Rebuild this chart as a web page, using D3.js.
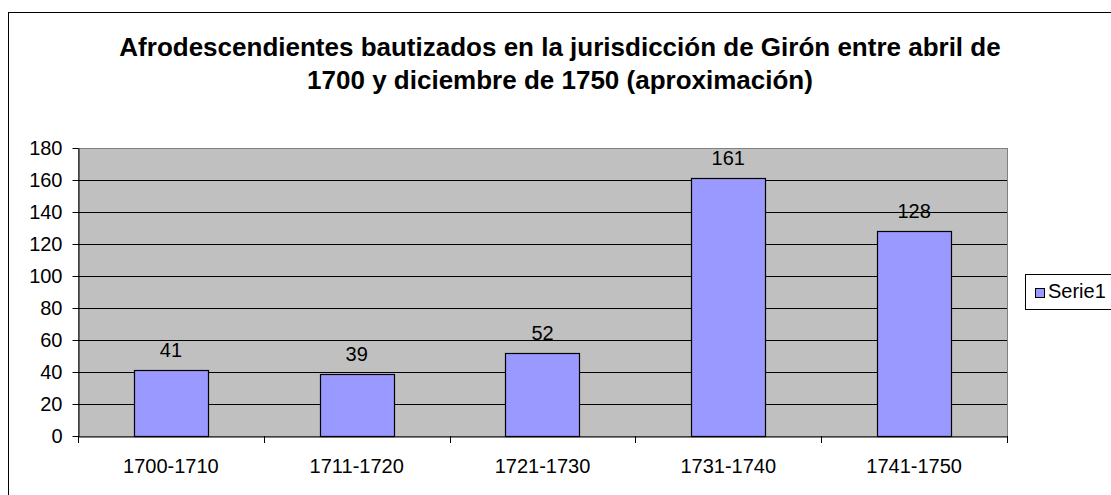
<!DOCTYPE html>
<html><head><meta charset="utf-8">
<script src="https://cdn.jsdelivr.net/npm/d3@7"></script>
<style>body{margin:0;background:#fff}svg{display:block}text{font-family:"Liberation Sans",Arial,sans-serif}</style>
</head><body>
<svg id="c" width="1111" height="495"></svg>
<script>
const categories = ["1700-1710","1711-1720","1721-1730","1731-1740","1741-1750"];
const values = [41,39,52,161,128];
const yTicks = [0,20,40,60,80,100,120,140,160,180];
const seriesName = "Serie1";
const titleLines = ["Afrodescendientes bautizados en la jurisdicción de Girón entre abril de","1700 y diciembre de 1750 (aproximación)"];

const FONT = "'Liberation Sans', Arial, sans-serif";
const svg = d3.select("#c");
// outer chart border
svg.append("rect").attr("x",8.5).attr("y",12.5).attr("width",1200).attr("height",600)
  .attr("fill","#fff").attr("stroke","#000").attr("stroke-width",1);

const L=78, R=1007, T=148, B=436;
const x = d3.scaleBand().domain(categories).range([L,R]).paddingInner(0.6).paddingOuter(0.3);
const xc = d3.scaleBand().domain(categories).range([L,R]);
const y = d3.scaleLinear().domain([0,180]).range([B,T]);

svg.append("rect").attr("x",L+0.5).attr("y",T+0.5).attr("width",R-L).attr("height",B-T)
  .attr("fill","#C0C0C0").attr("stroke","#808080").attr("stroke-width",1);

// gridlines
svg.append("g").selectAll("line").data(yTicks.filter(d=>d>0 && d<180)).join("line")
  .attr("x1",L).attr("x2",R).attr("y1",d=>Math.round(y(d))+0.5).attr("y2",d=>Math.round(y(d))+0.5)
  .attr("stroke","#000").attr("stroke-width",1);

// y axis
const ya = svg.append("g").attr("transform",`translate(${L+0.5},0)`)
  .call(d3.axisLeft(y).tickValues(yTicks).tickSize(6).tickPadding(10).tickSizeOuter(0));
ya.select(".domain").attr("stroke","#000");
ya.selectAll(".tick line").attr("stroke","#000");
ya.selectAll("text").style("font-size","20px").attr("fill","#000").style("font-family",FONT);

// x axis
const xa = svg.append("g").attr("transform",`translate(0,${B+0.5})`)
  .call(d3.axisBottom(xc).tickSize(0).tickPadding(22).tickSizeOuter(0));
xa.select(".domain").attr("stroke","#000");
xa.selectAll("text").style("font-size","20px").attr("fill","#000").style("font-family",FONT);
// category boundary ticks
svg.append("g").selectAll("line").data(d3.range(categories.length+1)).join("line")
  .attr("x1",i=>Math.round(L+i*xc.step())+0.5).attr("x2",i=>Math.round(L+i*xc.step())+0.5)
  .attr("y1",B).attr("y2",B+7).attr("stroke","#000");

// bars
svg.append("g").selectAll("rect").data(values).join("rect")
  .attr("x",(d,i)=>Math.round(x(categories[i]))+0.5)
  .attr("y",d=>Math.round(y(d))+0.5)
  .attr("width",Math.round(x.bandwidth()))
  .attr("height",d=>Math.round(B-y(d)))
  .attr("fill","#9999FF").attr("stroke","#000").attr("stroke-width",1.2);

// value labels
svg.append("g").selectAll("text").data(values).join("text")
  .attr("x",(d,i)=>x(categories[i])+x.bandwidth()/2)
  .attr("y",d=>y(d)-13)
  .attr("text-anchor","middle").style("font-size","20px").attr("fill","#000")
  .text(d=>d);

// title
svg.append("g").selectAll("text").data(titleLines).join("text")
  .attr("x",560).attr("y",(d,i)=>56+i*33)
  .attr("text-anchor","middle").style("font-size","26px").attr("font-weight","bold").attr("fill","#000")
  .text(d=>d);

// legend
const lg = svg.append("g");
lg.append("rect").attr("x",1025.5).attr("y",274.5).attr("width",100).attr("height",35)
  .attr("fill","#fff").attr("stroke","#000");
lg.append("rect").attr("x",1035.5).attr("y",288.5).attr("width",9).attr("height",9)
  .attr("fill","#9999FF").attr("stroke","#000");
lg.append("text").attr("x",1048).attr("y",298).style("font-size","20px").attr("fill","#000").text(seriesName);
</script>
</body></html>
